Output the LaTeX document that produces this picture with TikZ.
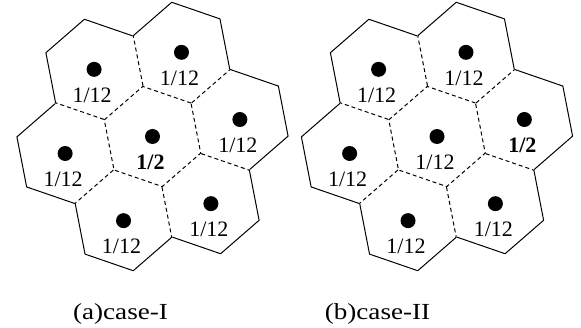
\documentclass[tikz,border=0pt]{standalone}
\usepackage{fontspec}
\setmainfont{Liberation Serif}
\usetikzlibrary{calc}

\tikzset{
  inner edge/.style={line width=1pt, dash pattern=on 4pt off 3pt},
  outer edge/.style={line width=1pt, line join=round},
  cell dot/.style={circle, fill=black, inner sep=0pt, minimum size=15pt},
  weight/.style={font=\fontsize{22}{24}\selectfont, inner sep=0pt, anchor=base},
  caption text/.style={font=\fontsize{23}{25}\selectfont, inner sep=0pt, anchor=base}
}

\begin{document}
\begin{tikzpicture}[x=1pt, y=1pt]
\useasboundingbox (0,0) rectangle (581,327);
\foreach \cl/\cx/\heavy in {a/152.5/0, b/437/1} {
  \coordinate (\cl0) at (\cx,190.5);
  \foreach \k in {1,...,6}
    \coordinate (\cl\k) at ($(\cl0)+({11+60*(\k-1)}:89)$);
  \draw[inner edge] ($(\cl0)+(41:51)$) -- ($(\cl0)+(101:51)$) -- ($(\cl0)+(161:51)$)
    -- ($(\cl0)+(221:51)$) -- ($(\cl0)+(281:51)$) -- ($(\cl0)+(341:51)$) -- cycle;
  \foreach \k in {1,...,6} {
    \pgfmathsetmacro\ang{11+60*(\k-1)}
    \draw[outer edge] ($(\cl\k)+({\ang+90}:51)$) -- ($(\cl\k)+({\ang+30}:51)$)
      -- ($(\cl\k)+({\ang-30}:51)$) -- ($(\cl\k)+({\ang-90}:51)$);
    \draw[inner edge] ($(\cl\k)+({\ang+150}:51)$) -- ($(\cl\k)+({\ang+90}:51)$);
  }
  \foreach \k in {0,...,6} {
    \node[cell dot] (\cl dot\k) at (\cl\k) {};
    \node[weight] (\cl w\k) at ($(\cl\k)+(-2,-33)$) {\ifnum\k=\heavy\relax\textbf{1/2}\else 1/12\fi};
  }
}
\node[caption text] (capa) at (120.5,8) {\scalebox{1.18}[1]{(a)case-I}};
\node[caption text] (capb) at (377.5,8) {\scalebox{1.18}[1]{(b)case-II}};
\end{tikzpicture}
\end{document}
